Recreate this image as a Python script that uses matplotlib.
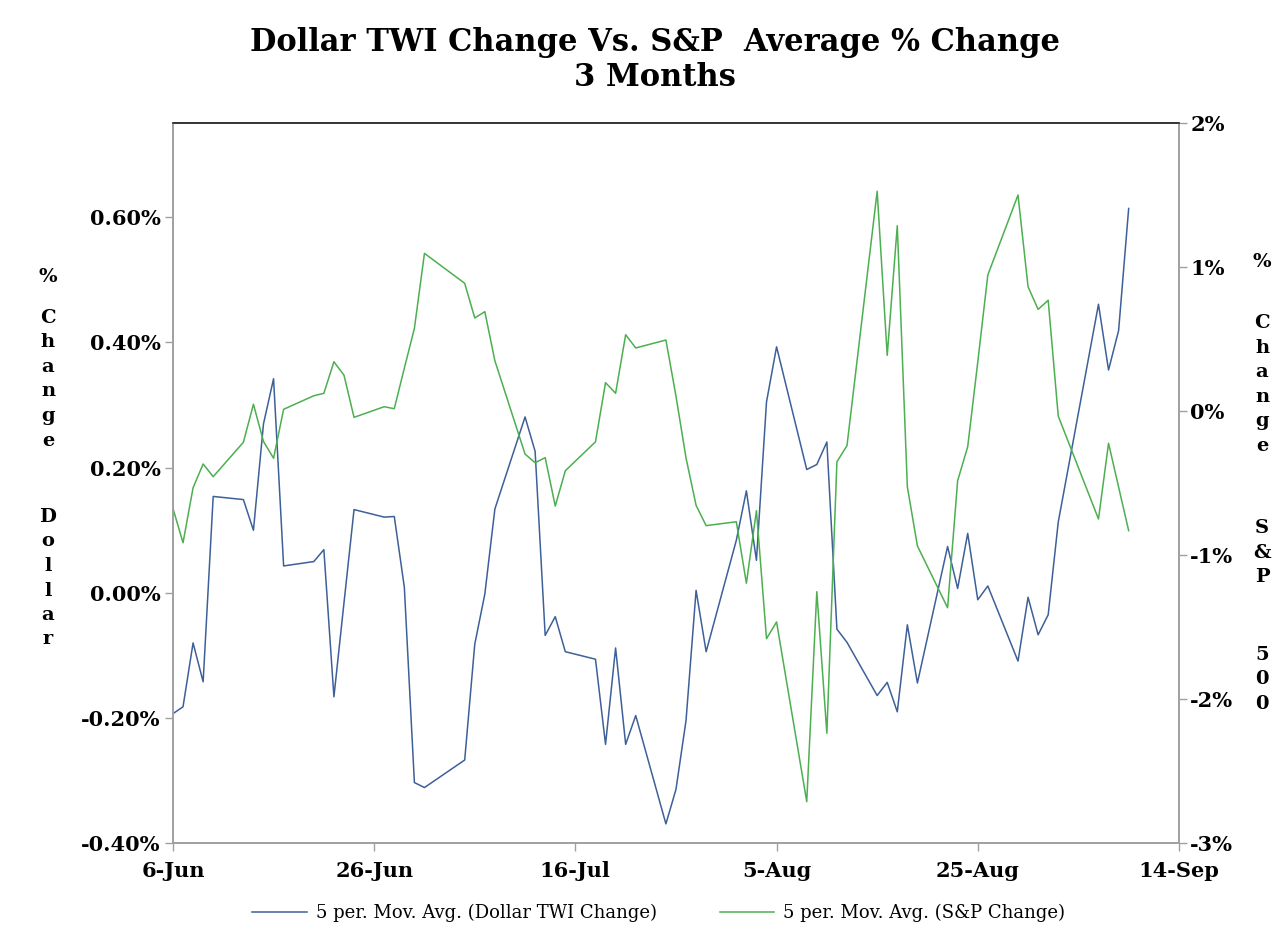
import matplotlib
matplotlib.use("Agg")
import matplotlib.pyplot as plt
import pandas as pd

# trading days Jun 6 - Sep 9 2011 (Jul 4 and Sep 5 closed)
dates = pd.bdate_range("2011-06-06", "2011-09-09")
dates = dates[~dates.isin(pd.to_datetime(["2011-07-04", "2011-09-05"]))]

# 5 per. moving average, dollar TWI change (%)
twi = [-0.193, -0.182, -0.080, -0.142, 0.154,
       0.149, 0.100, 0.270, 0.342, 0.043,
       0.050, 0.069, -0.166, -0.016, 0.133,
       0.121, 0.122, 0.009, -0.303, -0.311,
       -0.267, -0.082, -0.002, 0.134,
       0.281, 0.226, -0.068, -0.038, -0.094,
       -0.106, -0.242, -0.088, -0.242, -0.196,
       -0.369, -0.314, -0.204, 0.004, -0.094,
       0.084, 0.163, 0.052, 0.305, 0.393,
       0.197, 0.205, 0.241, -0.058, -0.079,
       -0.164, -0.143, -0.190, -0.051, -0.144,
       0.074, 0.007, 0.095, -0.011, 0.011,
       -0.109, -0.007, -0.067, -0.035, 0.113,
       0.461, 0.356, 0.419, 0.614]

# 5 per. moving average, S&P change (%)
spx = [-0.674, -0.913, -0.531, -0.366, -0.454,
       -0.215, 0.049, -0.210, -0.326, 0.014,
       0.108, 0.125, 0.344, 0.251, -0.042,
       0.032, 0.018, 0.300, 0.576, 1.097,
       0.889, 0.648, 0.692, 0.351,
       -0.297, -0.357, -0.322, -0.658, -0.413,
       -0.212, 0.199, 0.125, 0.532, 0.440,
       0.495, 0.106, -0.324, -0.653, -0.794,
       -0.767, -1.194, -0.690, -1.579, -1.463,
       -2.711, -1.253, -2.236, -0.350, -0.239,
       1.528, 0.389, 1.289, -0.524, -0.935,
       -1.364, -0.482, -0.246, 0.342, 0.947,
       1.502, 0.865, 0.708, 0.771, -0.033,
       -0.748, -0.222, -0.526, -0.829]

left_ticks = [-0.4, -0.2, 0.0, 0.2, 0.4, 0.6]
right_ticks = [-3, -2, -1, 0, 1, 2]
x_ticks = pd.date_range("2011-06-06", periods=6, freq="20D")

blue = "#3d6098"
green = "#4caf50"
serif = "DejaVu Serif"
plt.rcParams["font.family"] = serif

fig = plt.figure(figsize=(12.84, 9.4), dpi=100)
ax = fig.add_axes([0.1347, 0.1029, 0.7835, 0.7659])
ax2 = ax.twinx()

ax.plot(dates, twi, color=blue, lw=1.1,
        label="5 per. Mov. Avg. (Dollar TWI Change)")
ax2.plot(dates, spx, color=green, lw=1.1,
         label="5 per. Mov. Avg. (S&P Change)")

ax.set_ylim(-0.4, 0.75)
ax.set_yticks(left_ticks)
ax.set_yticklabels(["%.2f%%" % v for v in left_ticks])
ax2.set_ylim(-3, 2)
ax2.set_yticks(right_ticks)
ax2.set_yticklabels(["%d%%" % v for v in right_ticks])

ax.set_xlim(x_ticks[0], x_ticks[-1])
ax.set_xticks(x_ticks)
ax.set_xticklabels(["%d-%s" % (d.day, d.strftime("%b")) for d in x_ticks])

for a in (ax, ax2):
    for s in a.spines.values():
        s.set_color("#a0a0a0")
        s.set_linewidth(1.2)
    a.spines["top"].set_color("#333333")
    a.tick_params(colors="#a0a0a0", length=6, width=1.0, labelcolor="black")
    for lbl in a.get_xticklabels() + a.get_yticklabels():
        lbl.set_fontweight("bold")
        lbl.set_fontsize(15)
ax.tick_params(axis="y", pad=3)
ax2.tick_params(axis="y", pad=2)
ax.tick_params(axis="x", pad=7)

fig.text(0.51, 1 - 60 / 940,
         "Dollar TWI Change Vs. S&P  Average % Change\n3 Months",
         ha="center", va="center", fontsize=22, fontweight="heavy",
         linespacing=1.15)

# stacked axis titles
def stack(x, y_top, word, step=24.5):
    for i, ch in enumerate(word):
        fig.text(x / 1284, 1 - (y_top + i * step) / 940, ch,
                 ha="center", va="center", fontsize=14, fontweight="bold")

stack(48, 277, "%")
stack(48, 318, "Change")
stack(48, 517, "Dollar")
stack(1262, 262, "%")
stack(1262, 323, "Change")
stack(1262, 528, "S&P")
stack(1262, 655, "500")

h1, l1 = ax.get_legend_handles_labels()
h2, l2 = ax2.get_legend_handles_labels()
fig.legend(h1 + h2, l1 + l2, loc="center", ncol=2, frameon=False,
           bbox_to_anchor=(0.513, 1 - 913 / 940), fontsize=13,
           handlelength=3.0, columnspacing=3.5, handletextpad=0.5)

fig.savefig("out.png", dpi=100)
